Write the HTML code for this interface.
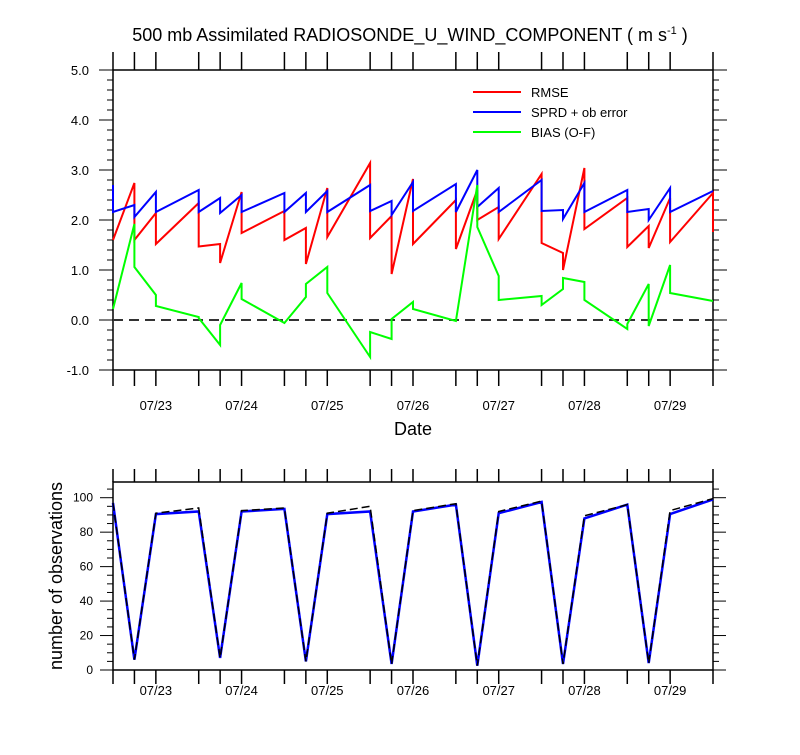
<!DOCTYPE html>
<html><head><meta charset="utf-8"><style>
body{margin:0;background:#fff;}
svg text{font-family:"Liberation Sans",sans-serif;fill:#000;}
</style></head><body>
<svg id="c" width="800" height="750" xmlns="http://www.w3.org/2000/svg">
<text x="410" y="41" font-size="18" text-anchor="middle">500 mb Assimilated RADIOSONDE_U_WIND_COMPONENT ( m s<tspan font-size="11" dy="-7">-1</tspan><tspan dy="7"> )</tspan></text>
<g id="topPanel"></g>
<g id="botPanel"></g>
<text x="413" y="435" font-size="18" text-anchor="middle">Date</text>
<text transform="translate(62,576) rotate(-90)" font-size="18" text-anchor="middle">number of observations</text>
<g>
<line x1="473" y1="92" x2="521" y2="92" stroke="#f00" stroke-width="2"/>
<text x="531" y="97" font-size="13">RMSE</text>
<line x1="473" y1="112" x2="521" y2="112" stroke="#00f" stroke-width="2"/>
<text x="531" y="117" font-size="13">SPRD + ob error</text>
<line x1="473" y1="132" x2="521" y2="132" stroke="#0f0" stroke-width="2"/>
<text x="531" y="137" font-size="13">BIAS (O-F)</text>
</g>
</svg>
<script>
const times=[0,6,12,24,30,36,48,54,60,72,78,84,96,102,108,120,126,132,144,150,156,168];
const dateLabels=["07/23","07/24","07/25","07/26","07/27","07/28","07/29"];
const rmseIn=[1.6,2.74,2.14,2.34,1.52,2.56,2.18,1.84,2.64,3.14,2.08,2.82,2.4,2.6,2.26,2.92,1.34,3.04,2.44,1.88,2.44,2.54];
const rmseOut=[1.6,1.6,1.52,1.47,1.14,1.74,1.6,1.12,1.66,1.64,0.92,1.52,1.42,2.0,1.62,1.54,1.0,1.82,1.46,1.44,1.56,1.76];
const sprdIn=[2.7,2.3,2.56,2.6,2.44,2.5,2.54,2.54,2.58,2.7,2.38,2.76,2.72,3.0,2.64,2.8,2.2,2.74,2.6,2.22,2.64,2.58];
const sprdOut=[2.16,2.06,2.16,2.16,2.14,2.16,2.16,2.16,2.16,2.18,2.1,2.18,2.16,2.26,2.16,2.18,2.02,2.16,2.16,2.0,2.16,2.58];
const biasIn=[0.22,1.92,0.5,0.06,-0.5,0.74,-0.06,0.46,1.06,-0.74,-0.38,0.36,-0.02,2.7,0.88,0.48,0.62,0.76,-0.18,0.72,1.1,0.38];
const biasOut=[0.22,1.06,0.28,0.04,-0.1,0.42,-0.06,0.72,0.54,-0.24,0.02,0.22,-0.02,1.86,0.4,0.3,0.84,0.4,-0.08,-0.12,0.54,0.38];
const countAssim=[97,6,90.5,92,7,92,93.5,5,90.5,92,3.5,92,96,2.5,91,97.5,3.5,88,96,4,90.5,99];
const countTotal=[97,6,91,94,7,92.5,94,5,91,95,3.5,92.5,96.5,2.5,92,98,3.5,89.5,96,4,92.5,99.5];
const yTicksTop=[-1,0,1,2,3,4,5];
const yTicksBot=[0,20,40,60,80,100];

const NS="http://www.w3.org/2000/svg";
const X0=113,X1=713,TMAX=168;
const sx=t=>X0+t*(X1-X0)/TMAX;
const syT=v=>70+(5-v)*50;
const syB=v=>670-v*1.723;
function mk(p,tag,a){const e=document.createElementNS(NS,tag);for(const k in a)e.setAttribute(k,a[k]);p.appendChild(e);return e;}
function ln(p,x1,y1,x2,y2,w){return mk(p,'line',{x1,y1,x2,y2,stroke:'#000','stroke-width':w||1});}
function saw(inA,outA,sy){let d='';for(let i=0;i<times.length;i++){const x=sx(times[i]);d+=(i?'L':'M')+x.toFixed(1)+','+sy(inA[i]).toFixed(1)+'L'+x.toFixed(1)+','+sy(outA[i]).toFixed(1);}return d;}

// TOP PANEL
const topG=document.getElementById('topPanel');
let r=mk(topG,'rect',{x:X0,y:70,width:X1-X0,height:300,fill:'none',stroke:'#000','stroke-width':1.5});

for(let k=0;k<=30;k++){const v=-1+k*0.2;const y=syT(v);const maj=k%5===0;const L=maj?14:6;ln(topG,X0-L,y,X0,y);ln(topG,X1,y,X1+L,y);}
yTicksTop.forEach(v=>{const t=mk(topG,'text',{x:89,y:syT(v)+5,'font-size':13,'text-anchor':'end'});t.textContent=v.toFixed(1);
});
times.forEach(t=>{const x=sx(t);ln(topG,x,52,x,70,1.5);ln(topG,x,370,x,386,1.5);});
dateLabels.forEach((s,i)=>{const t=mk(topG,'text',{x:sx(12+24*i),y:410,'font-size':13,'text-anchor':'middle'});t.textContent=s;
});
let zl=mk(topG,'line',{x1:X0,y1:syT(0),x2:X1,y2:syT(0),stroke:'#333','stroke-width':2,'stroke-dasharray':'10,6'});

let p1=mk(topG,'path',{d:saw(rmseIn,rmseOut,syT),fill:'none',stroke:'#f00','stroke-width':2});

let p2=mk(topG,'path',{d:saw(sprdIn,sprdOut,syT),fill:'none',stroke:'#00f','stroke-width':2});

let p3=mk(topG,'path',{d:saw(biasIn,biasOut,syT),fill:'none',stroke:'#0f0','stroke-width':2});


// BOTTOM PANEL
const botG=document.getElementById('botPanel');
let r2=mk(botG,'rect',{x:X0,y:482,width:X1-X0,height:188,fill:'none',stroke:'#000','stroke-width':1.5});

for(let v=0;v<=105;v+=5){const y=syB(v);const maj=v%20===0;const L=maj?13:6;ln(botG,X0-L,y,X0,y);ln(botG,X1,y,X1+L,y);}
yTicksBot.forEach(v=>{const t=mk(botG,'text',{x:93,y:syB(v)+4,'font-size':12,'text-anchor':'end'});t.textContent=v;
});
times.forEach(t=>{const x=sx(t);ln(botG,x,469,x,482,1.5);ln(botG,x,670,x,684,1.5);});
dateLabels.forEach((s,i)=>{const t=mk(botG,'text',{x:sx(12+24*i),y:695,'font-size':13,'text-anchor':'middle'});t.textContent=s;
});
const pl=a=>a.map((v,i)=>(i?'L':'M')+sx(times[i]).toFixed(1)+','+syB(v).toFixed(1)).join('');
let b1=mk(botG,'path',{d:pl(countAssim),fill:'none',stroke:'#00f','stroke-width':2.5});

let b2=mk(botG,'path',{d:pl(countTotal),fill:'none',stroke:'#000','stroke-width':1.5,'stroke-dasharray':'8,4'});

</script>
</body></html>
